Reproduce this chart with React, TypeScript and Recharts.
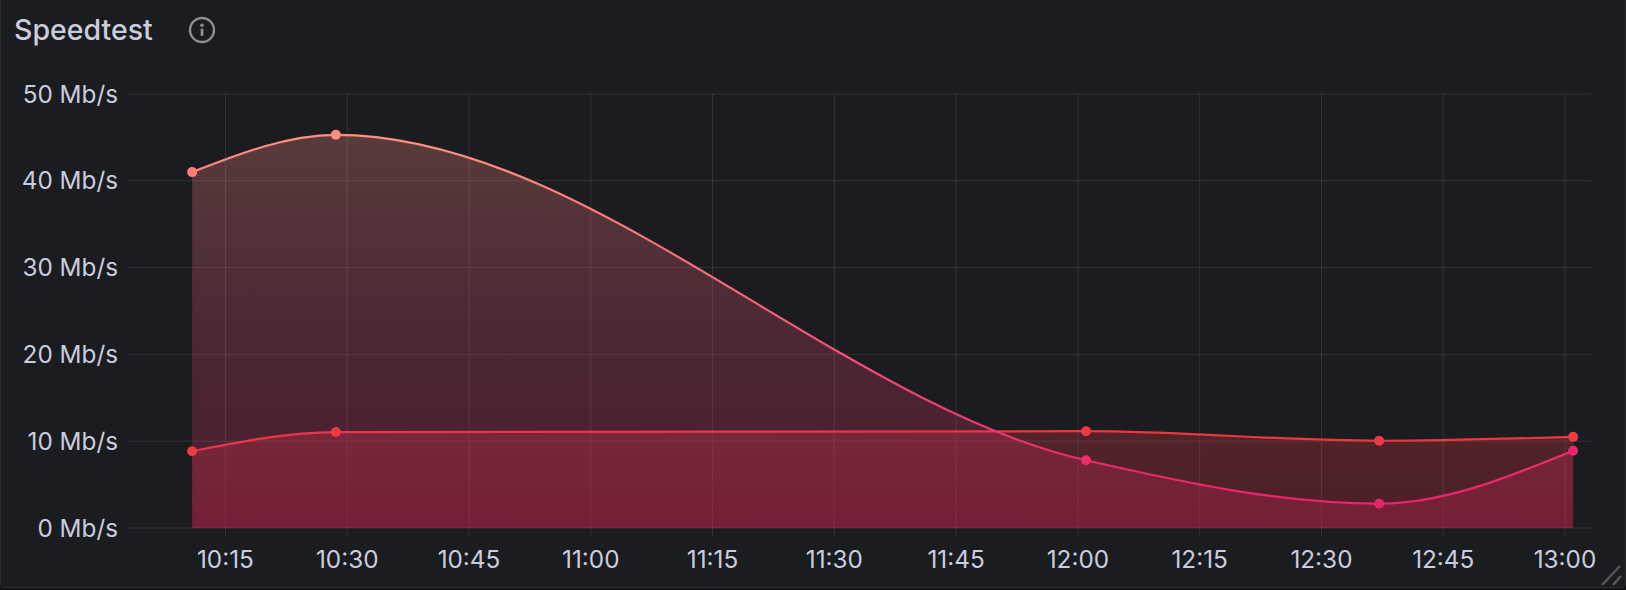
import React from "react";
import { AreaChart, Area, XAxis, YAxis, CartesianGrid } from "recharts";

const minutes = [610.9, 628.6, 721, 757.1, 781];
const downloadMbps = [41, 45.3, 7.8, 2.8, 8.9];
const uploadMbps = [8.85, 11.05, 11.15, 10.05, 10.5];
const downloadDotColors = ["#FF7F78", "#FF9080", "#E92C6A", "#E82468", "#E8246C"];
const uploadDotColors = ["#EE3A42", "#EE3A42", "#EE3A42", "#EE3A42", "#EE3A42"];
const xTicks = [615, 630, 645, 660, 675, 690, 705, 720, 735, 750, 765, 780];
const yTicks = [0, 10, 20, 30, 40, 50];
const title = "Speedtest";

const rows = minutes.map((t, i) => ({ t, download: downloadMbps[i], upload: uploadMbps[i] }));

const fmtTime = (m: number) => {
  const h = Math.floor(m / 60);
  const mm = m % 60;
  return `${h}:${String(mm).padStart(2, "0")}`;
};

const makeDot = (colors: string[]) => (props: any) => (
  <circle key={props.index} cx={props.cx} cy={props.cy} r={5} fill={colors[props.index]} stroke="none" />
);

const tickStyle = { fill: "#CCCCDC", fontSize: 24.3, fontFamily: "Inter, sans-serif" };

export default function App() {
  return (
    <div style={{ position: "absolute", left: 0, top: 0, width: 1626, height: 590, background: "#111217", overflow: "hidden" }}>
      <div style={{ position: "absolute", left: 0, top: -4, width: 1624, height: 590, background: "#1A1C20", border: "1px solid #2B2D32", borderRadius: 4 }} />
      <div style={{ position: "absolute", left: 14, top: 14, color: "#CCCCDC", font: "500 28.5px Inter, sans-serif", lineHeight: "32px" }}>{title}</div>
      <svg style={{ position: "absolute", left: 188, top: 16 }} width="28" height="28" viewBox="0 0 28 28">
        <circle cx="14" cy="14" r="12" fill="none" stroke="#8E8E98" strokeWidth="2.4" />
        <circle cx="14" cy="9.2" r="1.8" fill="#8E8E98" />
        <rect x="12.6" y="12.5" width="2.8" height="7.5" rx="1" fill="#8E8E98" />
      </svg>
      <svg style={{ position: "absolute", left: 1600, top: 564 }} width="24" height="22" viewBox="0 0 24 22">
        <path d="M2 21 L20 2 M13 21 L21 12" stroke="#55575C" strokeWidth="2.4" fill="none" />
      </svg>
      <div style={{ position: "absolute", left: 0, top: 0 }}>
        <AreaChart width={1626} height={590} data={rows} margin={{ top: 94, right: 35, bottom: 0, left: 0 }}>
          <defs>
            <linearGradient id="dlLine" x1="0" y1="0" x2="0" y2="1">
              <stop offset="0" stopColor="#FF9080" />
              <stop offset="0.5" stopColor="#F55C7A" />
              <stop offset="0.85" stopColor="#EA2E6C" />
              <stop offset="1" stopColor="#E82468" />
            </linearGradient>
            <linearGradient id="dlFill" x1="0" y1="0" x2="0" y2="1">
              <stop offset="0" stopColor="#FF9080" stopOpacity={0.27} />
              <stop offset="0.6" stopColor="#E5406E" stopOpacity={0.24} />
              <stop offset="1" stopColor="#E91E63" stopOpacity={0.25} />
            </linearGradient>
            <linearGradient id="ulFill" x1="0" y1="0" x2="0" y2="1">
              <stop offset="0" stopColor="#F23A44" stopOpacity={0.26} />
              <stop offset="1" stopColor="#E02838" stopOpacity={0.25} />
            </linearGradient>
          </defs>
          <CartesianGrid stroke="#FFFFFF" strokeOpacity={0.1} strokeWidth={1} syncWithTicks />
          <XAxis
            type="number"
            dataKey="t"
            scale="linear"
            domain={[603, 783.2]}
            ticks={xTicks}
            tickFormatter={fmtTime}
            axisLine={false}
            tickLine={{ stroke: "#FFFFFF", strokeOpacity: 0.1 }}
            tickSize={8}
            tickMargin={15}
            height={62}
            interval={0}
            tick={tickStyle}
          />
          <YAxis
            type="number"
            domain={[0, 50]}
            ticks={yTicks}
            tickFormatter={(v: number) => `${v} Mb/s`}
            axisLine={false}
            tickLine={false}
            tickSize={0}
            tickMargin={10}
            width={128}
            interval={0}
            tick={tickStyle}
          />
          <Area
            type="monotone"
            dataKey="upload"
            stroke="#EE3640"
            strokeWidth={2.2}
            fill="url(#ulFill)"
            fillOpacity={1}
            dot={makeDot(uploadDotColors)}
            activeDot={false}
            isAnimationActive={false}
          />
          <Area
            type="monotone"
            dataKey="download"
            stroke="url(#dlLine)"
            strokeWidth={2.2}
            fill="url(#dlFill)"
            fillOpacity={1}
            dot={makeDot(downloadDotColors)}
            activeDot={false}
            isAnimationActive={false}
          />
        </AreaChart>
      </div>
    </div>
  );
}
